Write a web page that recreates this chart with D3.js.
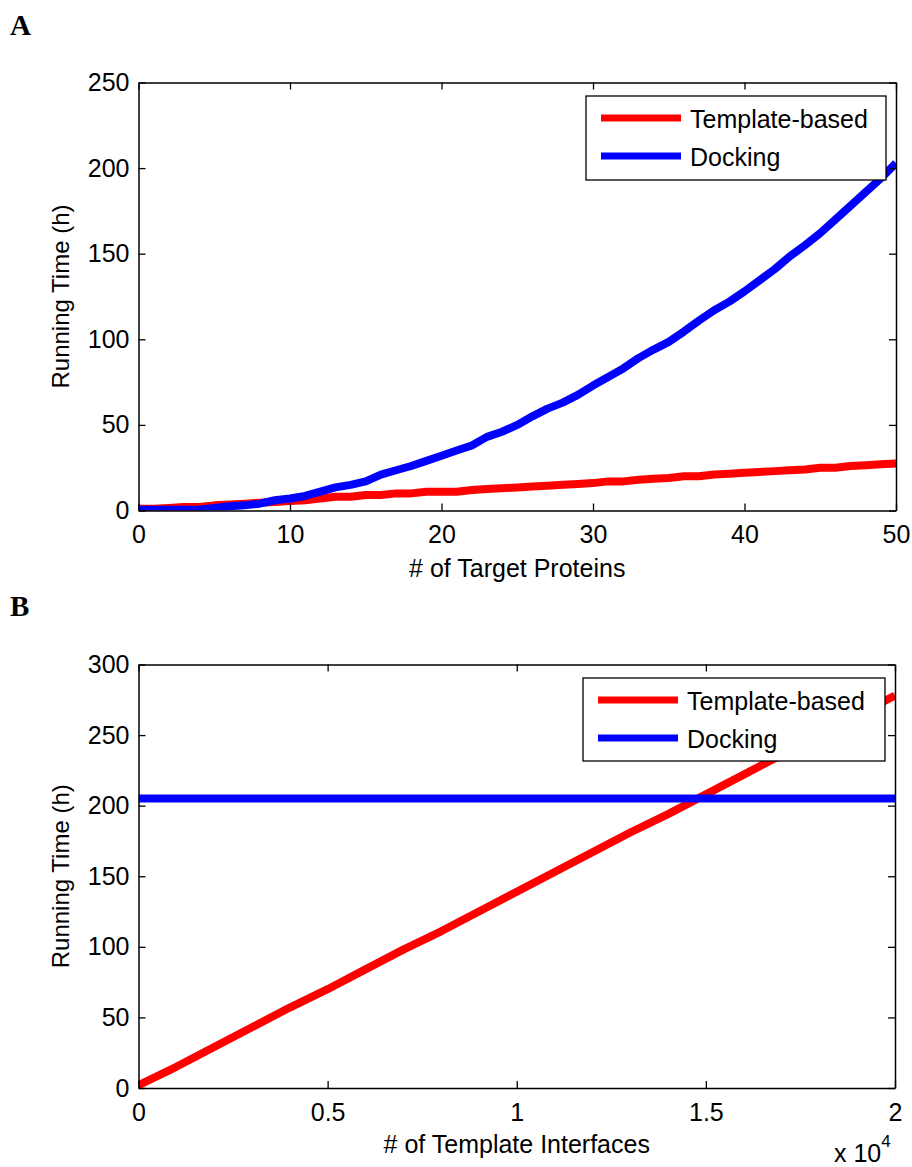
<!DOCTYPE html>
<html><head><meta charset="utf-8">
<script src="https://cdn.jsdelivr.net/npm/d3@7"></script>
<style>
html,body{margin:0;padding:0;background:#fff;}
svg{display:block;font-family:"Liberation Sans",Arial,sans-serif;}
</style></head>
<body>
<svg id="chart" width="912" height="1167"></svg>
<script>
// ---------- Data ----------
const seriesNames = ["Template-based", "Docking"];
const seriesColors = ["#ff0000", "#0000ff"];

// Panel A: # of target proteins 0..50
const proteinsX = d3.range(0, 51);
const templateA = [1,1,1.5,2,2,3,3.5,4,4.5,5,5.5,6,7,8,8,9,9,10,10,11,11,11,12,12.5,13,13.5,14,14.5,15,15.5,16,17,17,18,18.5,19,20,20,21,21.5,22,22.5,23,23.5,24,25,25,26,26.5,27,27.5];
const dockingA = [0.5,0.5,0.5,0.5,0.5,1.5,2.5,3,4,6,7,8.5,11,13.5,15,17,21,23.5,26,29,32,35,38,43,46,50,55,59.5,63,67.5,73,78,83,89,94,98.5,104.5,111,117,122,128,134.5,141,148.5,155,162,170,178,186,194,203];

// Panel B: # of template interfaces 0..20000
const interfacesX = [0,1000,2000,3000,4000,5000,6000,7000,8000,9000,10000,11000,12000,13000,14000,15000,16000,17000,18000,19000,20000];
const templateB = [2,15,29,43,57,70,84,98,111,125,139,153,167,181,194,208,222,236,250,264,278];
const dockingB = [205,205,205,205,205,205,205,205,205,205,205,205,205,205,205,205,205,205,205,205,205];

const xTicksA = [0,10,20,30,40,50];
const yTicksA = [0,50,100,150,200,250];
const xTicksB = [0,5000,10000,15000,20000];
const xTickLabelsB = ["0","0.5","1","1.5","2"];
const yTicksB = [0,50,100,150,200,250,300];

// ---------- Drawing ----------
const svg = d3.select("#chart");
const FS = 25;

function panel(cfg) {
  const g = svg.append("g");
  const x = d3.scaleLinear().domain(cfg.xDomain).range([cfg.left, cfg.right]);
  const y = d3.scaleLinear().domain(cfg.yDomain).range([cfg.bottom, cfg.top]);
  const clipId = "clip" + cfg.id;
  svg.append("clipPath").attr("id", clipId).append("rect")
    .attr("x", cfg.left).attr("y", cfg.top - 2)
    .attr("width", cfg.right - cfg.left).attr("height", cfg.bottom - cfg.top + 2);

  // lines
  const line = d3.line().x(d => x(d[0])).y(d => y(d[1]));
  cfg.series.forEach((s, i) => {
    g.append("path")
      .datum(cfg.xs.map((xv, j) => [xv, s[j]]))
      .attr("clip-path", `url(#${clipId})`)
      .attr("fill", "none").attr("stroke", seriesColors[i])
      .attr("stroke-width", 8).attr("stroke-linejoin", "round")
      .attr("d", line);
  });

  // axes (MATLAB style, ticks inward on all sides)
  const tl = 7;
  const axB = d3.axisBottom(x).tickValues(cfg.xTicks).tickSizeInner(-tl).tickSizeOuter(0).tickPadding(15)
    .tickFormat((d, i) => cfg.xLabels ? cfg.xLabels[i] : d);
  const axT = d3.axisTop(x).tickValues(cfg.xTicks).tickSizeInner(-tl).tickSizeOuter(0).tickFormat("");
  const axL = d3.axisLeft(y).tickValues(cfg.yTicks).tickSizeInner(-tl).tickSizeOuter(0).tickPadding(9);
  const axR = d3.axisRight(y).tickValues(cfg.yTicks).tickSizeInner(-tl).tickSizeOuter(0).tickFormat("");

  [[axB, `translate(0,${cfg.bottom})`], [axT, `translate(0,${cfg.top})`],
   [axL, `translate(${cfg.left},0)`], [axR, `translate(${cfg.right},0)`]].forEach(([ax, tr]) => {
    const a = g.append("g").attr("transform", tr).call(ax);
    a.selectAll(".domain").attr("stroke", "#000").attr("stroke-width", 1.5);
    a.selectAll(".tick line").attr("stroke", "#000").attr("stroke-width", 1.3);
    a.selectAll(".tick text").attr("fill", "#000").style("font-size", FS + "px")
      .style("font-family", '"Liberation Sans", Arial, sans-serif');
  });

  // axis titles
  g.append("text").attr("x", (cfg.left + cfg.right) / 2).attr("y", cfg.xTitleY)
    .attr("text-anchor", "middle").style("font-size", FS + "px").text(cfg.xTitle);
  g.append("text")
    .attr("transform", `translate(69,${(cfg.top + cfg.bottom) / 2}) rotate(-90)`)
    .attr("text-anchor", "middle").style("font-size", "24px").text("Running Time (h)");

  // panel letter
  g.append("text").attr("x", 10).attr("y", cfg.letterY)
    .style("font-family", '"Liberation Serif", "Times New Roman", serif')
    .style("font-weight", "bold").style("font-size", "29px").text(cfg.letter);

  // legend
  const L = cfg.legend;
  const lg = g.append("g");
  lg.append("rect").attr("x", L.x).attr("y", L.y).attr("width", L.w).attr("height", L.h)
    .attr("fill", "#fff").attr("stroke", "#000").attr("stroke-width", 1.3);
  seriesNames.forEach((name, i) => {
    const yy = L.y + 22 + i * 38;
    lg.append("line").attr("x1", L.x + 15).attr("x2", L.x + 95).attr("y1", yy).attr("y2", yy)
      .attr("stroke", seriesColors[i]).attr("stroke-width", 7);
    lg.append("text").attr("x", L.x + 104).attr("y", yy + 10).style("font-size", FS + "px").text(name);
  });
  return {x, y};
}

panel({
  id: "A", left: 138.5, right: 896, top: 82.5, bottom: 510.5,
  xDomain: [0, 50], yDomain: [0, 250],
  xs: proteinsX, series: [templateA, dockingA],
  xTicks: xTicksA, yTicks: yTicksA,
  xTitle: "# of Target Proteins", xTitleY: 577,
  letter: "A", letterY: 35,
  legend: {x: 586, y: 96, w: 300, h: 84}
});

panel({
  id: "B", left: 138.5, right: 895, top: 664.5, bottom: 1088,
  xDomain: [0, 20000], yDomain: [0, 300],
  xs: interfacesX, series: [templateB, dockingB],
  xTicks: xTicksB, xLabels: xTickLabelsB, yTicks: yTicksB,
  xTitle: "# of Template Interfaces", xTitleY: 1153,
  letter: "B", letterY: 616,
  legend: {x: 583, y: 678, w: 302, h: 83}
});

// exponent label
const ex = svg.append("text").attr("x", 834).attr("y", 1162).style("font-size", FS + "px");
ex.append("tspan").text("x 10");
ex.append("tspan").attr("dy", -15).style("font-size", "17px").text("4");
</script>
</body></html>
